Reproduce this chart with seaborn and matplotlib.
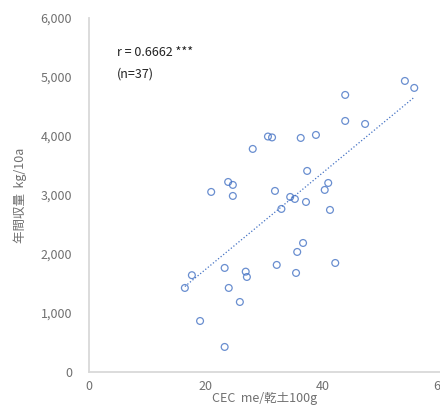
import numpy as np
import pandas as pd
import matplotlib.pyplot as plt
import seaborn as sns
from matplotlib.ticker import FuncFormatter

# CEC (me/乾土100g) and annual yield (kg/10a)
cec = [16.4, 17.6, 19.0, 20.9, 23.2, 23.2, 23.8, 23.9, 24.6, 24.6,
       25.8, 26.8, 27.0, 28.0, 30.6, 31.3, 31.8, 32.1, 32.9, 34.4,
       35.2, 35.4, 35.6, 36.2, 36.6, 37.1, 37.3, 38.8, 40.3, 40.9,
       41.2, 42.1, 43.8, 43.8, 47.2, 54.0, 55.6]
yield_ = [1424, 1640, 864, 3051, 1763, 424, 3220, 1424, 3170, 2983,
          1186, 1700, 1610, 3780, 3990, 3975, 3068, 1814, 2763, 2966,
          2932, 1678, 2034, 3966, 2186, 2881, 3407, 4017, 3085, 3203,
          2746, 1847, 4695, 4254, 4203, 4932, 4814]

r_text = 'r = 0.6662 ***'
n_text = '(n=37)'
xlabel = 'CEC  me/乾土100g'
ylabel = '年間収量  kg/10a'

df = pd.DataFrame({'cec': cec, 'yield': yield_})

sns.set_style('white')
plt.rcParams['font.family'] = ['Noto Sans CJK JP', 'DejaVu Sans']

fig = plt.figure(figsize=(4.4, 4.17), dpi=100)
ax = fig.add_axes([0.202, 0.108, 0.798, 0.849])

blue = '#4472C4'
sns.regplot(data=df, x='cec', y='yield', ax=ax, ci=None,
            scatter_kws=dict(s=24, facecolors='none', edgecolors=blue, linewidths=0.9),
            line_kws=dict(color=blue, linewidth=0.9, linestyle=':'))

ax.set_xlim(0, 60)
ax.set_ylim(0, 6000)
ax.set_xticks([0, 20, 40, 60])
ax.set_yticks(range(0, 6001, 1000))
ax.yaxis.set_major_formatter(FuncFormatter(lambda v, p: f'{int(v):,}'))
ax.tick_params(axis='both', length=0, labelsize=9, labelcolor='#707070')
ax.tick_params(axis='y', pad=12)
ax.tick_params(axis='x', pad=6)

for s in ['top', 'right']:
    ax.spines[s].set_visible(False)
for s in ['left', 'bottom']:
    ax.spines[s].set_color('#d9d9d9')
    ax.spines[s].set_linewidth(1.3)

ax.set_xlabel(xlabel, fontsize=9, color='#707070', labelpad=-1)
ax.set_ylabel(ylabel, fontsize=9, color='#707070', labelpad=10)

fig.text(0.266, 0.875, r_text, fontsize=9, color='#222222', va='center')
fig.text(0.266, 0.823, n_text, fontsize=9, color='#222222', va='center')

fig.savefig('out.png', dpi=100)
